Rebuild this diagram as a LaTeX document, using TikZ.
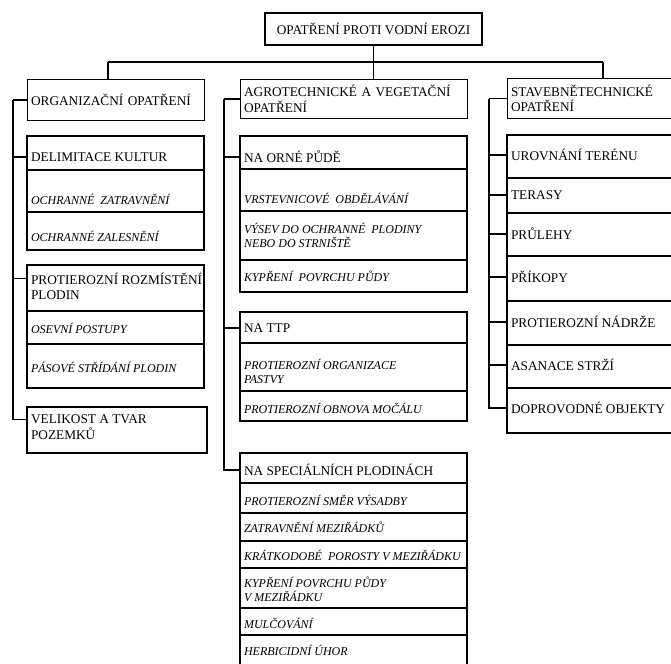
\documentclass[tikz,border=0pt]{standalone}
\usepackage{fontspec}
\setmainfont{Liberation Serif}
\tikzset{
  ramec/.style={line width=1.1pt},
  hlava/.style={draw, line width=1.1pt, anchor=north west, align=left, inner xsep=3.5pt,
    font=\fontsize{13.3}{15.5}\selectfont},
  polozka/.style={right, inner xsep=3.5pt, inner ysep=1pt, align=left,
    font=\fontsize{13.3}{15.5}\selectfont},
  kurziva/.style={polozka, font=\itshape\fontsize{12}{14}\selectfont},
}

\begin{document}
\begin{tikzpicture}[x=1pt, y=-1pt, line width=1.1pt]
		\useasboundingbox (0,0) rectangle (671,663);
		\clip (0,0) rectangle (671,663);

		% koren
		\node (top) at (373.5,29) [draw, minimum width=217pt, minimum height=32pt,
			font=\fontsize{13.3}{15.5}\selectfont] {OPATŘENÍ PROTI VODNÍ EROZI};
		\node (org) at (27,79) [hlava, text width=170pt, minimum height=41pt] {ORGANIZAČNÍ OPATŘENÍ};
		\node (agro) at (240,79) [hlava, text width=220pt, minimum height=39pt] {AGROTECHNICKÉ A VEGETAČNÍ\\OPATŘENÍ};
		\node (stav) at (507,78) [hlava, text width=170pt, minimum height=40pt] {STAVEBNĚTECHNICKÉ\\OPATŘENÍ};

		\coordinate (busL) at (108,62);
		\coordinate (busR) at (603,62);
		\draw (busL) -- (busR);
		\draw (top.south) -- (top.south |- agro.north);
		\draw (busL) -- (busL |- org.north);
		\draw (busR) -- (busR |- stav.north);

		% levy sloupec
		\draw[ramec] (27,136) rectangle (204,250);
		\foreach \y in {170,212} \draw (27,\y) -- (204,\y);
		\node (delim) at (27,157) [polozka] {DELIMITACE KULTUR};
		\node (zatr) at (27,199) [kurziva] {OCHRANNÉ~ ZATRAVNĚNÍ};
		\node (zales) at (27,236) [kurziva] {OCHRANNÉ ZALESNĚNÍ};

		\draw[ramec] (27,265) rectangle (204,388);
		\foreach \y in {311,344} \draw (27,\y) -- (204,\y);
		\node (rozm) at (27,286.5) [polozka] {PROTIEROZNÍ ROZMÍSTĚNÍ\\PLODIN};
		\node (osev) at (27,328) [kurziva] {OSEVNÍ POSTUPY};
		\node (pas) at (27,367) [kurziva] {PÁSOVÉ STŘÍDÁNÍ PLODIN};

		\draw[ramec] (27,407) rectangle (207,453);
		\node (velik) at (27,427) [polozka] {VELIKOST A TVAR\\POZEMKŮ};

		\coordinate (spL) at (13,0);
		\coordinate (rozmT) at ([yshift=7.75pt]rozm.west);
		\coordinate (velikT) at ([yshift=7.75pt]velik.west);
		\draw (spL |- org.west) |- (velikT);
		\foreach \n in {org, delim, rozmT}
			\draw (spL |- \n) -- (\n);

		% prostredni sloupec
		\draw[ramec] (240,136) rectangle (467,292);
		\foreach \y in {169,211,260} \draw (240,\y) -- (467,\y);
		\node (orne) at (240,157) [polozka] {NA ORNÉ PŮDĚ};
		\node (vrst) at (240,198) [kurziva] {VRSTEVNICOVÉ~ OBDĚLÁVÁNÍ};
		\node (vysev) at (240,235) [kurziva] {VÝSEV DO OCHRANNÉ~ PLODINY\\NEBO DO STRNIŠTĚ};
		\node (kypr) at (240,276) [kurziva] {KYPŘENÍ~ POVRCHU PŮDY};

		\draw[ramec] (240,312) rectangle (467,421);
		\foreach \y in {343,391} \draw (240,\y) -- (467,\y);
		\node (ttp) at (240,328) [polozka] {NA TTP};
		\node (past) at (240,371) [kurziva] {PROTIEROZNÍ ORGANIZACE\\PASTVY};
		\node (mocal) at (240,408) [kurziva] {PROTIEROZNÍ OBNOVA MOČÁLU};

		\draw[ramec] (240,453) rectangle (467,690);
		\foreach \y in {483,513,541,568,608,635} \draw (240,\y) -- (467,\y);
		\node (spec) at (240,470) [polozka] {NA SPECIÁLNÍCH PLODINÁCH};
		\node (smer) at (240,500) [kurziva] {PROTIEROZNÍ SMĚR VÝSADBY};
		\node (mezi) at (240,527) [kurziva] {ZATRAVNĚNÍ MEZIŘÁDKŮ};
		\node (krat) at (240,555) [kurziva] {KRÁTKODOBÉ~ POROSTY V MEZIŘÁDKU};
		\node (kypr2) at (240,589.5) [kurziva] {KYPŘENÍ POVRCHU PŮDY\\V MEZIŘÁDKU};
		\node (mulc) at (240,623) [kurziva] {MULČOVÁNÍ};
		\node (herb) at (240,650) [kurziva] {HERBICIDNÍ ÚHOR};

		\coordinate (spM) at (224,0);
		\draw (spM |- agro.west) |- (spec.west);
		\foreach \n in {agro, orne, ttp}
			\draw (spM |- \n.west) -- (\n.west);

		% pravy sloupec
		\draw[ramec] (507,135) rectangle (690,433);
		\foreach \y in {178,213,256,301,345,388} \draw (507,\y) -- (690,\y);
		\node (urov) at (507,155) [polozka] {UROVNÁNÍ TERÉNU};
		\node (ter) at (507,195) [polozka] {TERASY};
		\node (prul) at (507,234) [polozka] {PRŮLEHY};
		\node (prik) at (507,277) [polozka] {PŘÍKOPY};
		\node (nadr) at (507,322) [polozka] {PROTIEROZNÍ NÁDRŽE};
		\node (asan) at (507,365) [polozka] {ASANACE STRŽÍ};
		\node (dopr) at (507,408) [polozka] {DOPROVODNÉ OBJEKTY};

		\coordinate (spR) at (489,0);
		\draw (spR |- stav.west) |- (dopr.west);
		\foreach \n in {stav, urov, ter, prul, prik, nadr, asan}
			\draw (spR |- \n.west) -- (\n.west);
	\end{tikzpicture}
\end{document}
